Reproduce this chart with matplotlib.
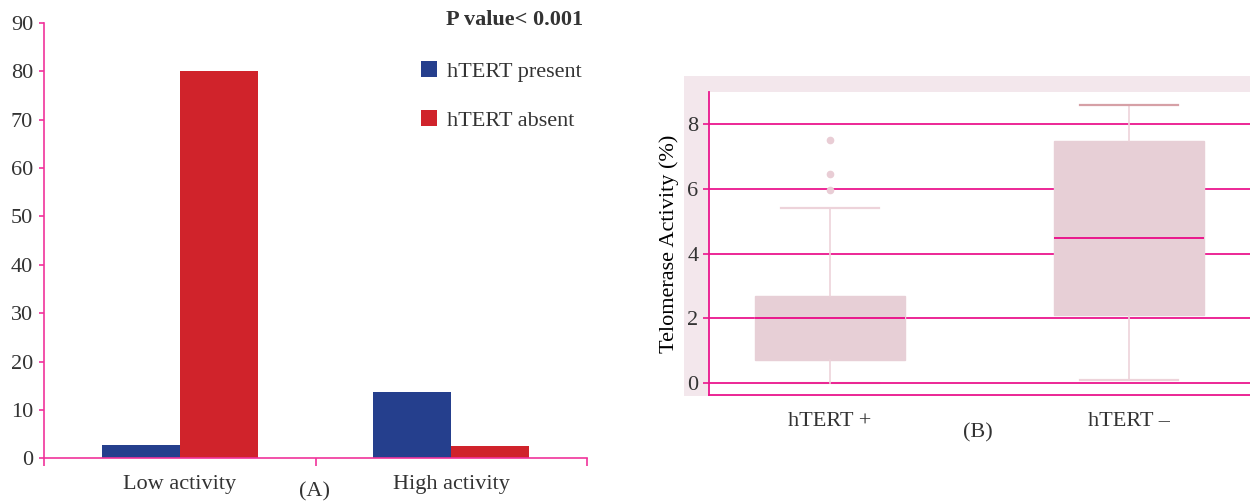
import numpy as np
import matplotlib
matplotlib.use("Agg")
import matplotlib.pyplot as plt
from matplotlib.patches import Rectangle

# panel A data
categories = ["Low activity", "High activity"]
present = [2.8, 13.7]
absent = [80, 2.6]

# panel B box statistics
groups = ["hTERT +", "hTERT \u2013"]
medians = [2.0, 4.47]
q1 = [0.70, 2.1]
q3 = [2.69, 7.50]
whis_lo = [0.0, 0.09]
whis_hi = [5.41, 8.60]
fliers = [[5.98, 6.47, 7.51], []]

plt.rcParams['font.family'] = ['Liberation Serif', 'DejaVu Serif']
plt.rcParams['text.color'] = '#333333'
plt.rcParams['xtick.color'] = '#333333'
plt.rcParams['ytick.color'] = '#333333'
fs = 16

blue = '#253F8D'
red = '#D0232B'
pink = '#F0339B'
grid_pink = '#EA168D'
box_fill = '#E7CFD6'
whisk = '#EDD3DA'
bg = '#F3E7EC'

W, H = 1250, 503
fig = plt.figure(figsize=(12.5, 5.03), dpi=100)

# ---------------- panel A ----------------
ax1 = fig.add_axes([44 / W, 1 - 458.3 / H, (587 - 44) / W, (458.3 - 23) / H])
x = np.arange(len(categories))
w = 0.287
b1 = ax1.bar(x - w / 2, present, w, color=blue, label='hTERT present')
b2 = ax1.bar(x + w / 2, absent, w, color=red, label='hTERT absent')
ax1.set_xlim(-0.5, 1.5)
ax1.set_ylim(0, 90)
ax1.set_yticks(range(0, 91, 10))
ax1.set_xticks([-0.5, 0.5, 1.5])
ax1.set_xticklabels([])
ax1.set_xticks(x, minor=True)
ax1.set_xticklabels(categories, minor=True)
ax1.tick_params(axis='x', which='major', length=6, width=1.2, color=pink, direction='out')
ax1.tick_params(axis='x', which='minor', length=0, pad=12, labelsize=fs)
ax1.tick_params(axis='y', length=3.8, width=1.2, color=pink, pad=4, labelsize=fs)
for s in ['top', 'right']:
    ax1.spines[s].set_visible(False)
for s in ['left', 'bottom']:
    ax1.spines[s].set_color(pink)
    ax1.spines[s].set_linewidth(1.2)
ax1.spines['bottom'].set_zorder(5)

leg = ax1.legend(handles=[b1, b2], loc='upper left', frameon=False,
                 bbox_to_anchor=(421 / W, 1 - 61 / H), bbox_transform=fig.transFigure,
                 fontsize=fs, handlelength=0.7, handleheight=0.7,
                 handletextpad=0.45, labelspacing=1.3, borderpad=0, borderaxespad=0)
fig.text(583 / W, 1 - 20 / H, 'P value< 0.001', ha='right', va='center',
         fontsize=fs, fontweight='bold')
fig.text(314 / W, 1 - 492 / H, '(A)', ha='center', va='center', fontsize=fs)

# ---------------- panel B ----------------
fig.patches.append(Rectangle((684 / W, 1 - 396 / H), (W - 684) / W, (396 - 76) / H,
                             transform=fig.transFigure, facecolor=bg,
                             edgecolor='none', zorder=-1))
ax2 = fig.add_axes([709 / W, 1 - 395 / H, (W - 709) / W, (395 - 92) / H])
ax2.set_facecolor('white')

stats = []
for i in range(len(groups)):
    stats.append(dict(med=medians[i], q1=q1[i], q3=q3[i], whislo=whis_lo[i],
                      whishi=whis_hi[i], fliers=fliers[i], label=groups[i]))
bp = ax2.bxp(stats, positions=[0, 1], widths=0.5, patch_artist=True,
             showfliers=True, capwidths=0.33,
             boxprops=dict(facecolor=box_fill, edgecolor=box_fill, linewidth=1),
             medianprops=dict(color=grid_pink, linewidth=1.4),
             whiskerprops=dict(color=whisk, linewidth=1.2),
             capprops=dict(color=whisk, linewidth=1.6),
             flierprops=dict(marker='o', markersize=4.5, markerfacecolor='#E9CDD5',
                             markeredgecolor='#E9CDD5'))
for art in bp['boxes'] + bp['whiskers'] + bp['caps'] + bp['medians'] + bp['fliers']:
    art.set_zorder(3)
bp['caps'][3].set_color('#D6A0A6')
bp['caps'][0].set_zorder(0.5)  # hidden under the zero grid line

ax2.set_xlim(-0.405, 1.405)
ax2.set_ylim(-0.37, 9)
ax2.set_yticks([0, 2, 4, 6, 8])
ax2.yaxis.grid(True, color=grid_pink, linewidth=1.3, zorder=1)
ax2.set_axisbelow(True)
ax2.tick_params(axis='y', length=4.5, width=1.2, color=grid_pink, pad=3, labelsize=fs)
ax2.tick_params(axis='x', length=0, pad=12, labelsize=fs)
ax2.set_ylabel('Telomerase Activity (%)', fontsize=fs, labelpad=6)
for s in ['top', 'right']:
    ax2.spines[s].set_visible(False)
for s in ['left', 'bottom']:
    ax2.spines[s].set_color(grid_pink)
    ax2.spines[s].set_linewidth(1.3)

fig.text(978 / W, 1 - 433 / H, '(B)', ha='center', va='center', fontsize=fs)

fig.savefig('out.png', dpi=100)
